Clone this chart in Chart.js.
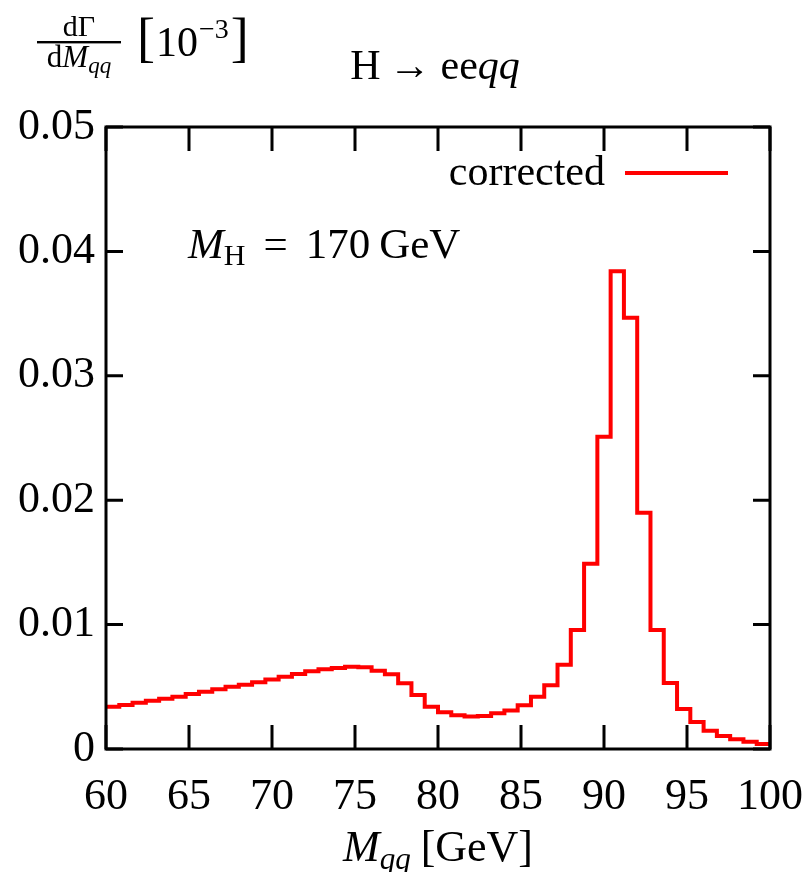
<!DOCTYPE html>
<html>
<head>
<meta charset="utf-8">
<script src="https://cdn.jsdelivr.net/npm/chart.js@4.4.1/dist/chart.umd.min.js"></script>
<style>
  html, body { margin: 0; padding: 0; background: #ffffff; }
  #wrap { width: 802px; height: 872px; position: relative; }
</style>
</head>
<body>
<div id="wrap"><canvas id="c" width="802" height="872"></canvas></div>
<script>
// ---- data ----
const binEdges = [60, 60.8, 61.6, 62.4, 63.2, 64, 64.8, 65.6, 66.4, 67.2,
  68, 68.8, 69.6, 70.4, 71.2, 72, 72.8, 73.6, 74.4, 75.2,
  76, 76.8, 77.6, 78.4, 79.2, 80, 80.8, 81.6, 82.4, 83.2,
  84, 84.8, 85.6, 86.4, 87.2, 88, 88.8, 89.6, 90.4, 91.2,
  92, 92.8, 93.6, 94.4, 95.2, 96, 96.8, 97.6, 98.4, 99.2, 100];
const corrected = [0.00340, 0.00354, 0.00372, 0.00388, 0.00404, 0.00420, 0.00442, 0.00461, 0.00480, 0.00501,
  0.00517, 0.00536, 0.00558, 0.00581, 0.00603, 0.00625, 0.00641, 0.00651, 0.00662, 0.00657,
  0.00629, 0.00600, 0.00528, 0.00434, 0.00340, 0.00295, 0.00271, 0.00262, 0.00265, 0.00287,
  0.00310, 0.00351, 0.00420, 0.00512, 0.00678, 0.00957, 0.01490, 0.02510, 0.03840, 0.03467,
  0.01900, 0.00957, 0.00530, 0.00322, 0.00217, 0.00147, 0.00105, 0.00078, 0.00059, 0.00040];
const xTicks = [60, 65, 70, 75, 80, 85, 90, 95, 100];
const yTicks = [0, 0.01, 0.02, 0.03, 0.04, 0.05];
const seriesLabel = 'corrected';

const SERIF = '"Liberation Serif", "DejaVu Serif", serif';
const FS = 44;

// histogram step points: left bin edges + closing point at the last edge
const points = binEdges.map((x, i) => ({ x: x, y: corrected[Math.min(i, corrected.length - 1)] }));

function drawRuns(ctx, runs, x, y, align) {
  let total = 0;
  runs.forEach(r => { ctx.font = r.font; r.w = ctx.measureText(r.t).width; total += r.w + (r.gap || 0); });
  let cx = align === 'center' ? x - total / 2 : (align === 'right' ? x - total : x);
  ctx.textAlign = 'left';
  ctx.textBaseline = 'alphabetic';
  runs.forEach(r => {
    ctx.font = r.font;
    ctx.fillText(r.t, cx, y + (r.dy || 0));
    cx += r.w + (r.gap || 0);
  });
  return total;
}

const framePlugin = {
  id: 'frame',
  afterDatasetsDraw(chart) {
    const { ctx, chartArea: a, scales } = chart;
    ctx.save();
    ctx.strokeStyle = '#000';
    ctx.lineWidth = 3;
    ctx.lineCap = 'butt';
    ctx.beginPath();
    xTicks.forEach(v => {
      const px = scales.x.getPixelForValue(v);
      ctx.moveTo(px, a.bottom); ctx.lineTo(px, a.bottom - 24);
      ctx.moveTo(px, a.top); ctx.lineTo(px, a.top + 24);
    });
    yTicks.forEach(v => {
      const py = scales.y.getPixelForValue(v);
      ctx.moveTo(a.left, py); ctx.lineTo(a.left + 17, py);
      ctx.moveTo(a.right, py); ctx.lineTo(a.right - 17, py);
    });
    ctx.stroke();
    ctx.strokeRect(a.left, a.top, a.right - a.left, a.bottom - a.top);

    ctx.fillStyle = '#000';
    // legend
    const ly = a.top + 46;
    ctx.font = '42px ' + SERIF;
    ctx.textAlign = 'right';
    ctx.textBaseline = 'alphabetic';
    ctx.fillText(seriesLabel, a.left + 499, ly + 12);
    ctx.strokeStyle = '#ff0000';
    ctx.lineWidth = 4;
    ctx.beginPath();
    ctx.moveTo(a.left + 519, ly); ctx.lineTo(a.left + 622, ly);
    ctx.stroke();

    // annotation M_H = 170 GeV
    drawRuns(ctx, [
      { t: 'M', font: 'italic 43px ' + SERIF },
      { t: 'H', font: '30px ' + SERIF, dy: 7, gap: 18 },
      { t: '=', font: '43px ' + SERIF, gap: 18 },
      { t: '170', font: '43px ' + SERIF, gap: 9 },
      { t: 'GeV', font: '43px ' + SERIF }
    ], a.left + 82, a.top + 131, 'left');

    // x-axis title
    drawRuns(ctx, [
      { t: 'M', font: 'italic 44px ' + SERIF },
      { t: 'qq', font: 'italic 31px ' + SERIF, dy: 8, gap: 10 },
      { t: '[GeV]', font: '44px ' + SERIF }
    ], (a.left + a.right) / 2, 861, 'center');

    // top title H -> eeqq
    drawRuns(ctx, [
      { t: 'H', font: '42px ' + SERIF, gap: 8 },
      { t: '\u2192', font: '42px ' + SERIF, gap: 10 },
      { t: 'ee', font: '42px ' + SERIF },
      { t: 'qq', font: 'italic 42px ' + SERIF }
    ], 435, 79, 'center');

    // y-axis label: dΓ / dM_qq [10^-3]
    const fx = 79;
    drawRuns(ctx, [{ t: 'd\u0393', font: '30px ' + SERIF }], fx, 36, 'center');
    ctx.fillRect(37, 41, 84, 2.4);
    drawRuns(ctx, [
      { t: 'd', font: '31px ' + SERIF },
      { t: 'M', font: 'italic 31px ' + SERIF },
      { t: 'qq', font: 'italic 23px ' + SERIF, dy: 6 }
    ], fx, 67, 'center');
    drawRuns(ctx, [
      { t: '[', font: '54px ' + SERIF, gap: 1 },
      { t: '10', font: '42px ' + SERIF, gap: 1 },
      { t: '\u22123', font: '28px ' + SERIF, dy: -18, gap: 2 },
      { t: ']', font: '54px ' + SERIF }
    ], 137, 56, 'left');
    ctx.restore();
  }
};

new Chart(document.getElementById('c'), {
  type: 'line',
  data: {
    datasets: [{
      label: seriesLabel,
      data: points,
      stepped: true,
      borderColor: '#ff0000',
      borderWidth: 4,
      pointRadius: 0,
      fill: false,
      tension: 0
    }]
  },
  options: {
    responsive: false,
    animation: false,
    devicePixelRatio: 1,
    layout: { padding: { left: 0, top: 127, right: 32, bottom: 0 } },
    plugins: { legend: { display: false }, tooltip: { enabled: false }, title: { display: false } },
    scales: {
      x: {
        type: 'linear',
        min: 60, max: 100,
        afterFit(s) { s.height = 872 - 749; s.paddingLeft = 0; s.paddingRight = 0; },
        afterBuildTicks(s) { s.ticks = xTicks.map(v => ({ value: v })); },
        grid: { display: false, drawTicks: false },
        border: { display: false },
        ticks: {
          autoSkip: false, maxRotation: 0,
          padding: 22,
          color: '#000',
          font: { family: SERIF, size: FS },
          callback: v => String(v)
        }
      },
      y: {
        type: 'linear',
        min: 0, max: 0.05,
        afterFit(s) { s.width = 106; s.paddingTop = 0; s.paddingBottom = 0; },
        afterBuildTicks(s) { s.ticks = yTicks.map(v => ({ value: v })); },
        grid: { display: false, drawTicks: false },
        border: { display: false },
        ticks: {
          autoSkip: false,
          padding: 11,
          color: '#000',
          font: { family: SERIF, size: FS },
          callback: v => (v === 0 ? '0' : Number(v).toFixed(2))
        }
      }
    }
  },
  plugins: [framePlugin]
});
</script>
</body>
</html>
